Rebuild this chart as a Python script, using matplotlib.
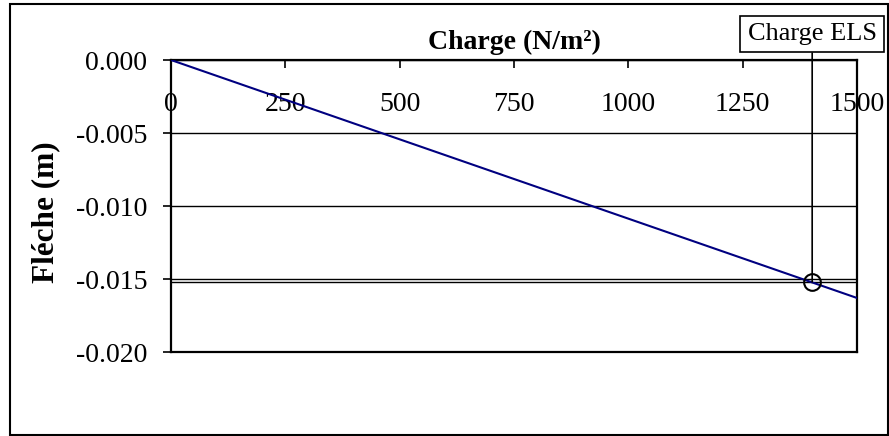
import matplotlib
matplotlib.use("Agg")
from matplotlib import pyplot as plt
from matplotlib import patches

# data
charge = [0, 1500]
fleche = [0.0, -0.0163]
charge_els = 1402
fleche_els = -0.0152
x_ticks = [0, 250, 500, 750, 1000, 1250, 1500]
y_ticks = [0.000, -0.005, -0.010, -0.015, -0.020]

plt.rcParams['font.family'] = ['Liberation Serif', 'DejaVu Serif']

W, H = 889, 436
fig = plt.figure(figsize=(W / 100, H / 100), dpi=100)
ax = fig.add_axes([171 / W, 1 - 352 / H, (857 - 171) / W, (352 - 60) / H])

ax.set_xlim(0, 1500)
ax.set_ylim(-0.020, 0.0)

# horizontal gridlines
for yt in y_ticks:
    ax.axhline(yt, color='black', lw=1.0, zorder=1)

ax.plot(charge, fleche, color='#000080', lw=1.5, zorder=3)

# ELS marker and guide lines
ax.plot([0, 1500], [fleche_els, fleche_els], color='black', lw=1.0, zorder=2)
ax.plot([charge_els], [fleche_els], marker='o', ms=12, mfc='none',
        mec='black', mew=1.5, zorder=4)
ax.annotate("Charge ELS", xy=(charge_els, fleche_els), xycoords='data',
            xytext=(charge_els, H - 34), textcoords=('data', 'figure pixels'),
            ha='center', va='center', fontsize=19,
            bbox=dict(boxstyle='square,pad=0.28', fc='white', ec='black', lw=1.2),
            arrowprops=dict(arrowstyle='-', color='black', lw=1.2,
                            shrinkA=0, shrinkB=0, relpos=(0.5, 0)),
            annotation_clip=False)

ax.set_xticks(x_ticks)
ax.set_xticklabels([str(v) for v in x_ticks])
ax.set_yticks(y_ticks)
ax.set_yticklabels(["%.3f" % v for v in y_ticks])
ax.tick_params(axis='x', top=True, bottom=False, labeltop=True,
               labelbottom=False, direction='in', length=6, width=1.2,
               pad=-41, labelsize=20)
ax.tick_params(axis='y', direction='out', length=6, width=1.2, pad=11,
               labelsize=20)

for sp in ax.spines.values():
    sp.set_linewidth(1.6)
    sp.set_color('black')

ax.set_title("Charge (N/m²)", fontsize=20, fontweight='bold', y=1.0, pad=8)
fig.text(46 / W, 1 - 212 / H, "Fléche (m)", rotation=90, ha='center',
         va='center', fontsize=22.5, fontweight='bold')

# outer chart frame
fig.patches.append(patches.Rectangle((9.5 / W, 1 - 435 / H), (887.5 - 9.5) / W,
                                     (435 - 4.5) / H, transform=fig.transFigure,
                                     fill=False, ec='black', lw=1.5))

fig.savefig("out.png", dpi=100)
